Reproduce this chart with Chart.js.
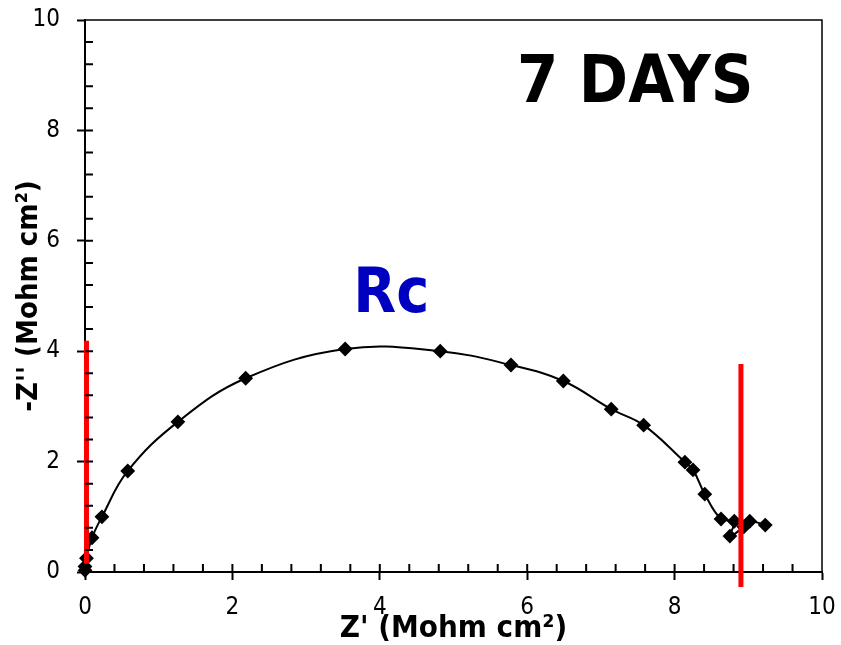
<!DOCTYPE html>
<html>
<head>
<meta charset="utf-8">
<script src="https://cdn.jsdelivr.net/npm/chart.js@4.4.1/dist/chart.umd.min.js"></script>
<style>
  body { margin: 0; background: #fff; }
  #wrap { width: 841px; height: 645px; }
</style>
</head>
<body>
<div id="wrap"><canvas id="nyquist" width="841" height="645"></canvas></div>
<script>
// Nyquist plot, 7 days of immersion
var zReal = [0, 0, 0.02, 0.095, 0.23, 0.58, 1.26, 2.18, 3.53, 4.82, 5.78, 6.49, 7.14, 7.58, 8.14, 8.25, 8.41, 8.63, 8.81, 8.75, 8.94, 9.02, 9.23];
var zImag = [0.03, 0.1, 0.25, 0.62, 1.0, 1.83, 2.72, 3.51, 4.04, 4.00, 3.75, 3.46, 2.95, 2.66, 1.99, 1.85, 1.41, 0.96, 0.92, 0.65, 0.82, 0.92, 0.85];

// red markers bounding Rc
var markerLeftX = [0.02, 0.02];
var markerLeftY = [4.19, 0.15];
var markerRightX = [8.90, 8.90];
var markerRightY = [3.77, -0.27];

var axisTicks = [0, 2, 4, 6, 8, 10];

var FONT = "'DejaVu Sans Condensed', 'DejaVu Sans', sans-serif";

function pts(xs, ys) {
  return xs.map(function (v, i) { return { x: v, y: ys[i] }; });
}

var frameAndText = {
  id: 'frameAndText',
  afterDraw: function (chart) {
    var ctx = chart.ctx, a = chart.chartArea;
    var x = chart.scales.x, y = chart.scales.y;
    ctx.save();
    // thin frame on top/right
    ctx.strokeStyle = '#000';
    ctx.lineWidth = 1.5;
    ctx.beginPath();
    ctx.moveTo(a.left, a.top); ctx.lineTo(a.right, a.top); ctx.lineTo(a.right, a.bottom);
    ctx.stroke();
    // minor ticks inside, every 0.4
    ctx.lineWidth = 2;
    ctx.beginPath();
    for (var i = 1; i < 25; i++) {
      var v = i * 0.4;
      var px = x.getPixelForValue(v), py = y.getPixelForValue(v);
      ctx.moveTo(px, a.bottom); ctx.lineTo(px, a.bottom - 8);
      ctx.moveTo(a.left, py); ctx.lineTo(a.left + 8, py);
    }
    ctx.stroke();
    // labels
    ctx.textAlign = 'left';
    ctx.textBaseline = 'alphabetic';
    ctx.fillStyle = '#000';
    ctx.font = 'bold 66px ' + FONT;
    ctx.fillText('7 DAYS', x.getPixelForValue(5.86), y.getPixelForValue(8.52));
    ctx.fillStyle = '#0000c0';
    ctx.font = 'bold 62px ' + FONT;
    ctx.fillText('Rc', x.getPixelForValue(3.64), y.getPixelForValue(4.71));
    ctx.restore();
  }
};

var ctx = document.getElementById('nyquist');
var myChart = new Chart(ctx, {
  type: 'scatter',
  data: {
    datasets: [{
      label: 'left',
      data: pts(markerLeftX, markerLeftY),
      showLine: true,
      borderColor: '#ff0000',
      borderWidth: 5,
      pointRadius: 0,
      clip: false
    }, {
      label: 'right',
      data: pts(markerRightX, markerRightY),
      showLine: true,
      borderColor: '#ff0000',
      borderWidth: 5,
      pointRadius: 0,
      clip: false
    }, {
      label: '7 days',
      data: pts(zReal, zImag),
      showLine: true,
      tension: 0.4,
      borderColor: '#000',
      borderWidth: 2,
      pointStyle: 'rectRot',
      pointRadius: 6,
      pointBackgroundColor: '#000',
      pointBorderColor: '#000',
      clip: false
    }]
  },
  options: {
    responsive: false,
    animation: false,
    layout: { padding: { top: 20, right: 19, left: 0, bottom: 0 } },
    plugins: { legend: { display: false }, tooltip: { enabled: false } },
    scales: {
      x: {
        type: 'linear',
        min: 0, max: 10,
        afterBuildTicks: function (s) { s.ticks = axisTicks.map(function (v) { return { value: v }; }); },
        afterFit: function (s) { s.height = 73; s.paddingLeft = 0; s.paddingRight = 0; },
        grid: { display: true, drawOnChartArea: false, tickLength: 8, tickWidth: 2, tickColor: '#000' },
        border: { color: '#000', width: 2 },
        ticks: { color: '#000', padding: 13, font: { family: FONT, size: 24 } },
        title: {
          display: true,
          text: "Z' (Mohm cm\u00b2)",
          color: '#000',
          font: { family: FONT, size: 31, weight: 'bold', lineHeight: 1 },
          padding: { top: 0, bottom: 1 }
        }
      },
      y: {
        type: 'linear',
        min: 0, max: 10,
        afterBuildTicks: function (s) { s.ticks = axisTicks.map(function (v) { return { value: v }; }); },
        afterFit: function (s) { s.width = 85; s.paddingTop = 0; s.paddingBottom = 0; },
        grid: { display: true, drawOnChartArea: false, tickLength: 8, tickWidth: 2, tickColor: '#000' },
        border: { color: '#000', width: 2 },
        ticks: { color: '#000', padding: 17, font: { family: FONT, size: 24 } },
        title: {
          display: true,
          text: "-Z'' (Mohm cm\u00b2)",
          color: '#000',
          font: { family: FONT, size: 29, weight: 'bold', lineHeight: 1 },
          padding: { top: 15, bottom: 0 }
        }
      }
    }
  },
  plugins: [frameAndText]
});
</script>
</body>
</html>
